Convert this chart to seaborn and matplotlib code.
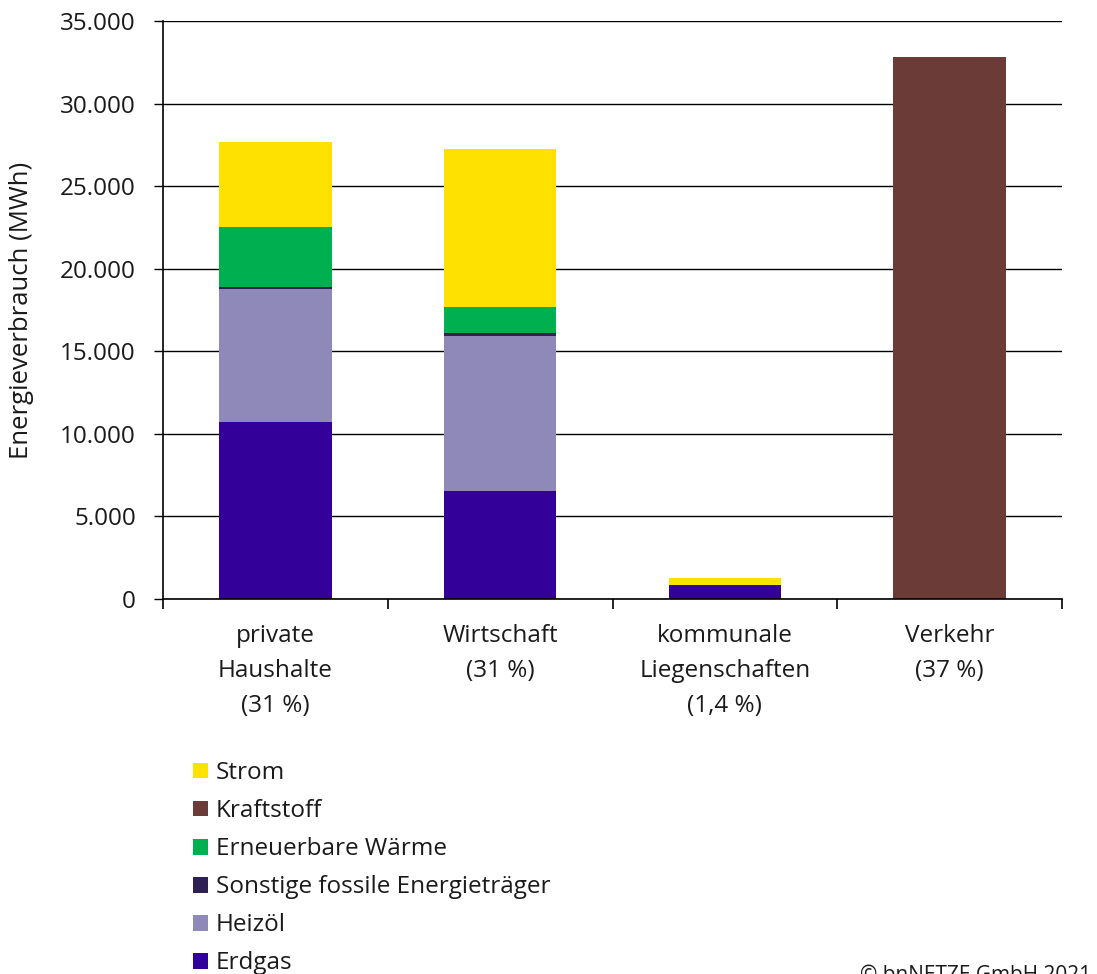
import matplotlib
matplotlib.use("Agg")
import matplotlib.pyplot as plt
from matplotlib.patches import Patch
from matplotlib.ticker import FuncFormatter, FixedLocator
import seaborn as sns
import pandas as pd
import numpy as np

categories = ["private\nHaushalte\n(31 %)", "Wirtschaft\n(31 %)",
              "kommunale\nLiegenschaften\n(1,4 %)", "Verkehr\n(37 %)"]
erdgas = [10700, 6540, 850, 0]
heizoel = [8080, 9390, 0, 0]
sonstige = [100, 170, 0, 0]
erneuerbar = [3620, 1590, 0, 0]
strom = [5200, 9570, 400, 0]
kraftstoff = [0, 0, 0, 32830]

series_names = ["Erdgas", "Heizöl", "Sonstige fossile Energieträger",
                "Erneuerbare Wärme", "Strom", "Kraftstoff"]
series_vals = [erdgas, heizoel, sonstige, erneuerbar, strom, kraftstoff]
colors = {"Erdgas": "#330099", "Heizöl": "#8F89BA",
          "Sonstige fossile Energieträger": "#2E2052",
          "Erneuerbare Wärme": "#00AF50", "Strom": "#FFE100",
          "Kraftstoff": "#6B3B37"}
legend_order = ["Strom", "Kraftstoff", "Erneuerbare Wärme",
                "Sonstige fossile Energieträger", "Heizöl", "Erdgas"]

sns.set_theme(style="white")
plt.rcParams["font.family"] = ["Open Sans", "DejaVu Sans"]

FS = 17.5
fig = plt.figure(figsize=(10.97, 9.74), dpi=100)
ax = fig.add_axes([163/1097, 1-599/974, (1062-163)/1097, (599-21)/974])

cum = np.cumsum(np.array(series_vals), axis=0)
df = pd.DataFrame({"cat": categories})
for i in range(len(series_names) - 1, -1, -1):
    df["v"] = cum[i]
    sns.barplot(data=df, x="cat", y="v", color=colors[series_names[i]],
                width=0.5, ax=ax, saturation=1, linewidth=0, order=categories)

ax.set_xlim(-0.5, 3.5)
ax.set_ylim(0, 35000)
ax.set_yticks(np.arange(0, 35001, 5000))
ax.yaxis.set_major_formatter(FuncFormatter(lambda v, p: f"{int(v):,}".replace(",", ".")))
ax.grid(axis="y", color="#000000", linewidth=1.0, zorder=0)
ax.set_axisbelow(True)
for s in ["top", "right"]:
    ax.spines[s].set_visible(False)
for s in ["left", "bottom"]:
    ax.spines[s].set_color("#000000")
    ax.spines[s].set_linewidth(1.2)

ax.set_xticks(range(len(categories)))
ax.set_xticklabels(categories, linespacing=1.6)
ax.tick_params(axis="y", which="major", left=True, length=6.5, width=1, color="#000",
               labelsize=FS, pad=13, labelcolor="#1a1a1a")
ax.tick_params(axis="x", which="major", bottom=False, labelsize=FS, pad=12, labelcolor="#1a1a1a")
ax.xaxis.set_minor_locator(FixedLocator([-0.5, 0.5, 1.5, 2.5, 3.5]))
ax.tick_params(axis="x", which="minor", bottom=True, length=7, width=1.2, color="#000")
ax.set_xlabel("")
ax.set_ylabel("Energieverbrauch (MWh)", fontsize=18.5, color="#1a1a1a")
ax.yaxis.set_label_coords(-0.143, 0.5)

handles = [Patch(facecolor=colors[n], edgecolor="none", label=n) for n in legend_order]
fig.legend(handles=handles, loc="upper left", bbox_to_anchor=(193/1097, 1-761/974),
           frameon=False, fontsize=FS, handlelength=0.62, handleheight=0.62,
           handletextpad=0.33, labelspacing=0.58, borderaxespad=0, borderpad=0,
           labelcolor="#1a1a1a")

fig.text(860/1097, 1-986/974, "© bnNETZE GmbH 2021", fontsize=15,
         ha="left", va="bottom", color="#1a1a1a")

fig.savefig("out.png", dpi=100)
